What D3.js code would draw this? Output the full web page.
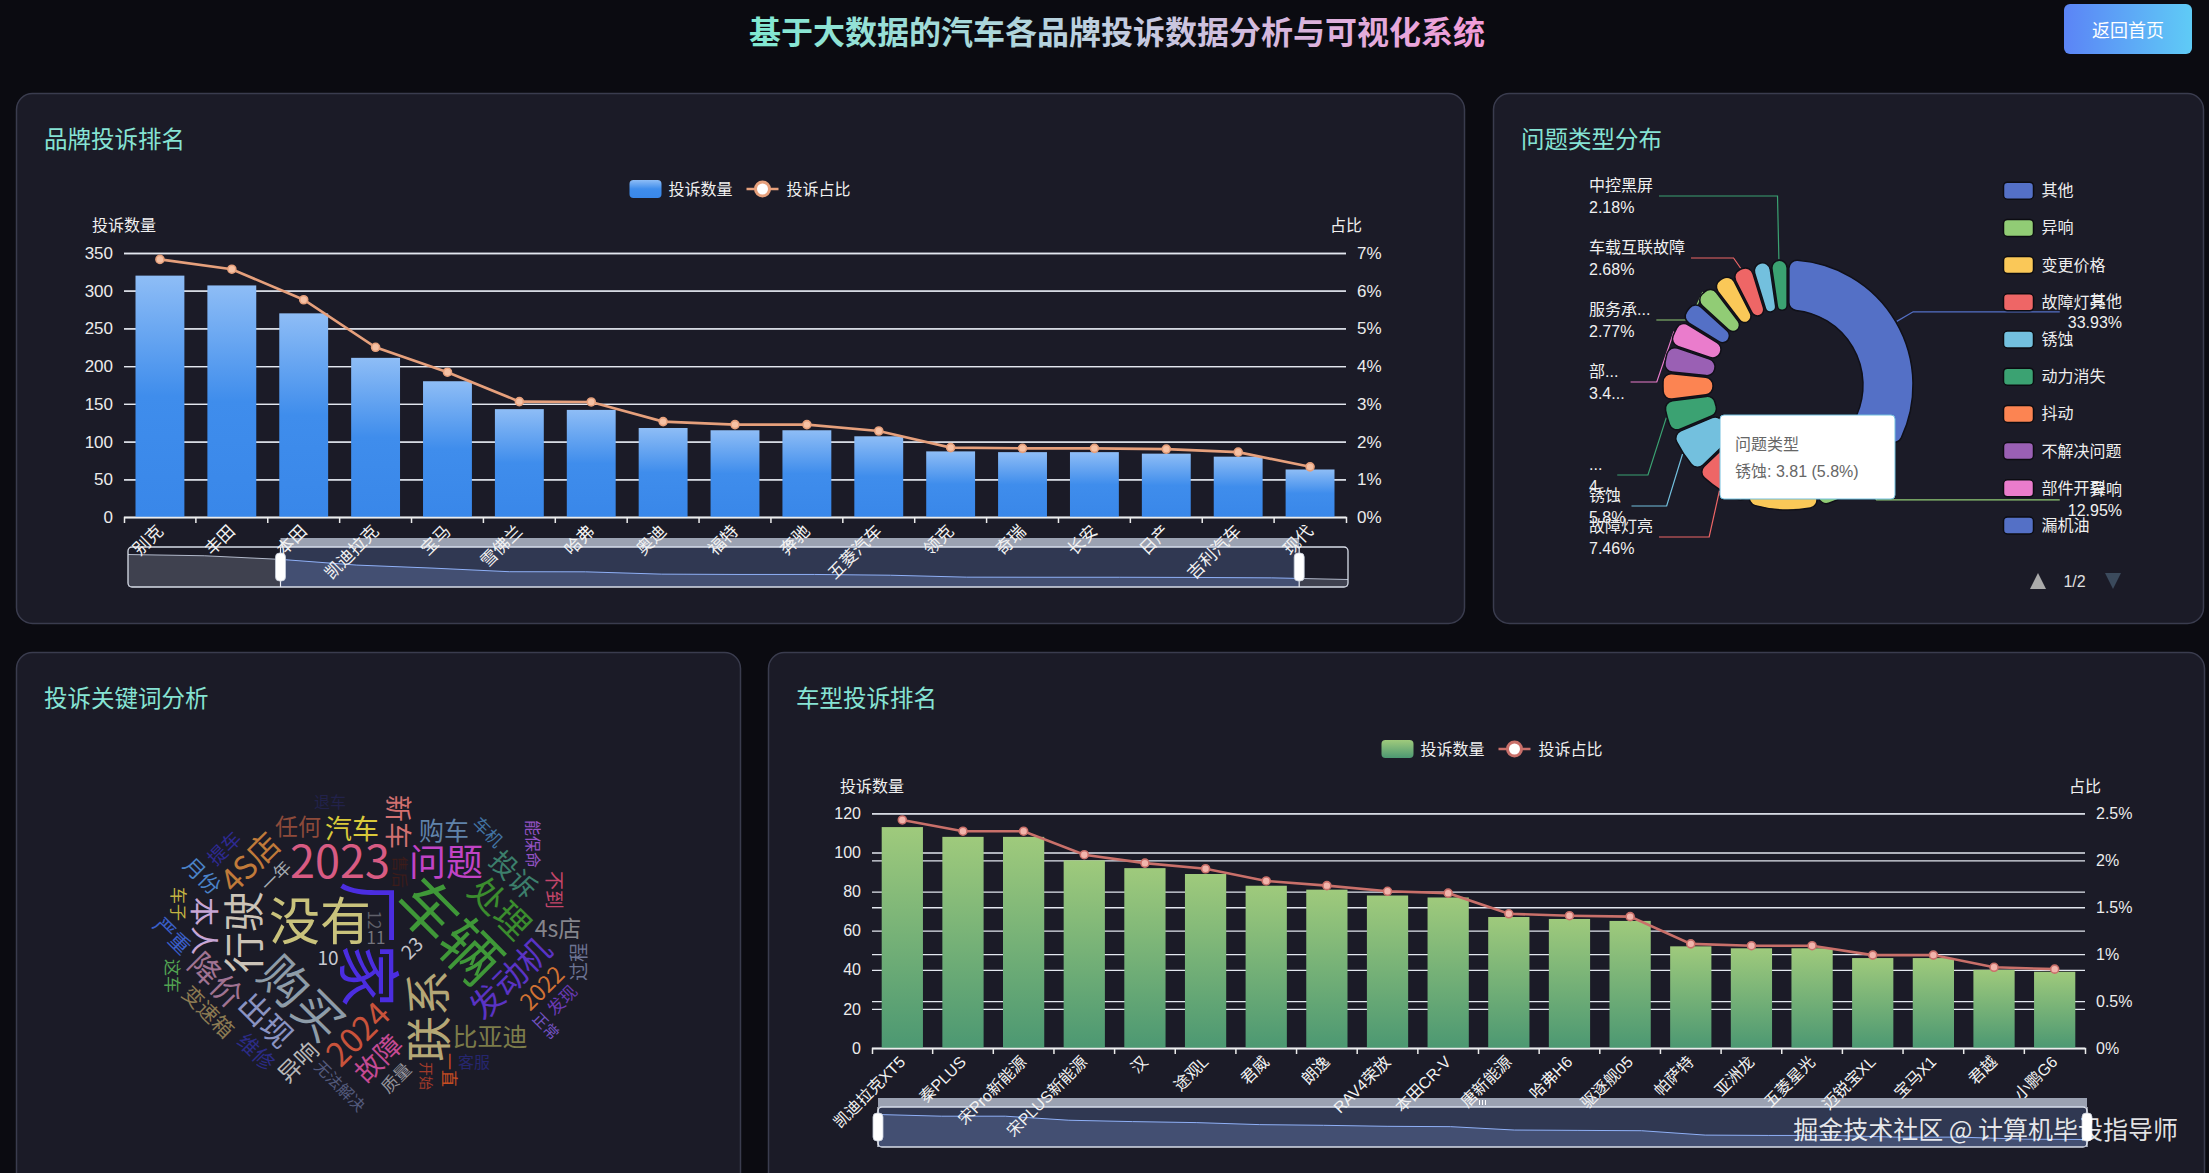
<!DOCTYPE html>
<html lang="zh-CN">
<head>
<meta charset="utf-8">
<title>基于大数据的汽车各品牌投诉数据分析与可视化系统</title>
<script src="https://cdn.jsdelivr.net/npm/d3@7"></script>
<style>
  html, body { margin:0; padding:0; background:#0b0b11; overflow:hidden; }
  svg { display:block; }
  text { font-family: "Liberation Sans", "Noto Sans CJK SC", sans-serif; }
</style>
</head>
<body>
<svg id="chart" width="2209" height="1173"></svg>
<script>
// ================= DATA =================
const brands = ['别克','丰田','本田','凯迪拉克','宝马','雪佛兰','哈弗','奥迪','福特','奔驰','五菱汽车','领克','奇瑞','长安','日产','吉利汽车','现代'];
const brandCounts = [320, 307, 270, 211, 180, 143, 142, 118, 115, 115, 107, 87, 86, 86, 84, 80, 63];
const brandShares = [6.83, 6.57, 5.76, 4.50, 3.84, 3.06, 3.05, 2.53, 2.45, 2.45, 2.28, 1.84, 1.82, 1.82, 1.80, 1.72, 1.33];
const brandLeftTicks = [0, 50, 100, 150, 200, 250, 300, 350];
const brandRightTicks = [0, 1, 2, 3, 4, 5, 6, 7];

const models = ['凯迪拉克XT5','秦PLUS','宋Pro新能源','宋PLUS新能源','汉','途观L','君威','朗逸','RAV4荣放','本田CR-V','唐新能源','哈弗H6','驱逐舰05','帕萨特','亚洲龙','五菱星光','迈锐宝XL','宝马X1','君越','小鹏G6'];
const modelCounts = [113, 108, 108, 96, 92, 89, 83, 81, 78, 77, 67, 66, 65, 52, 51, 51, 46, 46, 40, 39];
const modelShares = [2.43, 2.31, 2.31, 2.06, 1.97, 1.91, 1.78, 1.73, 1.67, 1.65, 1.43, 1.41, 1.40, 1.11, 1.09, 1.09, 0.99, 0.99, 0.86, 0.84];
const modelLeftTicks = [0, 20, 40, 60, 80, 100, 120];
const modelRightTicks = [0, 0.5, 1, 1.5, 2, 2.5];

const issueTypes = ['其他','异响','变更价格','故障灯亮','锈蚀','动力消失','抖动','不解决问题','部件开裂','漏机油','服务承诺不兑现','车身漆面问题','车载互联故障','空调故障','中控黑屏'];
const issueValues = [22.29, 8.51, 6.30, 4.90, 3.81, 2.76, 2.36, 2.30, 2.25, 1.90, 1.82, 1.79, 1.76, 1.51, 1.43];

const keywords = ['厂家','车辆','没有','购买','联系','2023','行驶','问题','处理','发动机','2024','4S店','出现','降价','本人','故障','新车','投诉','汽车','比亚迪','购车','2022','任何','4s店','异响','变速箱','月份','严重','维修','不到','过程','23','10','提车','11','12','车子','这车','一年','一直','质量','车机','发现','无法解决','能保命','客服','售后','退车','正常','开始'];
const keywordWeights = [620, 590, 500, 470, 450, 440, 400, 360, 340, 320, 320, 310, 300, 300, 280, 260, 260, 260, 260, 240, 240, 220, 220, 220, 220, 200, 200, 200, 200, 180, 180, 180, 180, 180, 160, 160, 160, 160, 160, 160, 160, 160, 160, 150, 150, 150, 150, 150, 140, 130];

const legendLabels = ['投诉数量', '投诉占比'];
const axisNames = ['投诉数量', '占比'];

// ================= STYLE =================
const keywordColors = ['#4b2de0','#3f9838','#c9c27c','#8e9ca8','#b5a776','#d85b83','#cbc3b8','#c143c6','#3b8c2e','#5a33c4','#c9533b','#c07a3a','#8a93c2','#a07392','#c7a6d6','#c44a93','#d27070','#3c7f6c','#d9c93a','#7c7c4a','#6083aa','#d27233','#8d4a3a','#85858c','#b8b8b8','#8c7a52','#4a82c8','#3a5fc8','#2c2c86','#c4466a','#6d7494','#c4c4cc','#c9c9d2','#2e2a92','#74747c','#60606a','#c2b342','#52a352','#a4abb2','#c44c22','#94949c','#4274a4','#6a3ab4','#535a7c','#9352c4','#26266e','#3c1c1a','#22224a','#7352c2','#a33a2a'];
const keywordRotations = [90,45,0,45,-90,0,-90,0,45,-45,-45,-45,45,45,90,-45,90,45,0,0,0,-45,0,0,-45,45,45,45,45,90,-90,-45,0,-45,0,90,90,90,-45,90,-45,45,-45,45,90,0,90,0,45,90];
const piePalette = ['#5470c6','#91cc75','#fac858','#ee6666','#73c0de','#3ba272','#fc8452','#9a60b4','#ea7ccc'];
const pieLabelShown = ['其他','异响','故障灯亮','锈蚀','动力消失','部件开裂','服务承诺不兑现','车载互联故障','中控黑屏'];
const pieLabelDisplay = {'服务承诺不兑现': ['服务承...', null], '部件开裂': ['部...', '3.4...'], '动力消失': ['...', '4...']};

const FONT = '"Liberation Sans", "Noto Sans CJK SC", sans-serif';
const CJK = '"Noto Sans CJK SC", sans-serif';
const CLOUD_FONT = '"Noto Sans CJK SC"';
const PANEL_BG = '#1b1b27';

// ================= SETUP =================
const svg = d3.select('#chart');
const defs = svg.append('defs');
svg.append('rect').attr('width', 2209).attr('height', 1173).attr('fill', '#0b0b11');

function grad(id, stops, vertical) {
  const g = defs.append('linearGradient').attr('id', id)
    .attr('x1', 0).attr('y1', 0).attr('x2', vertical ? 0 : 1).attr('y2', vertical ? 1 : 0);
  stops.forEach(([o, c]) => g.append('stop').attr('offset', o).attr('stop-color', c));
}
grad('titleGrad', [[0, '#80e9d1'], [0.5, '#c2cde0'], [1, '#f29bd9']], false);
grad('btnGrad', [[0, '#5b84f6'], [1, '#5fcbf6']], false);
grad('blueBar', [[0, '#8ebdf6'], [0.5, '#3f8dec'], [1, '#3987e9']], true);
grad('greenBar', [[0, '#9fca7c'], [1, '#4c9872']], true);

// header
svg.append('text').attr('x', 1117).attr('y', 30).attr('text-anchor', 'middle')
  .attr('dominant-baseline', 'central')
  .style('font-family', CJK).style('font-size', '32px').style('font-weight', 700)
  .attr('fill', 'url(#titleGrad)').text('基于大数据的汽车各品牌投诉数据分析与可视化系统');
svg.append('rect').attr('x', 2064).attr('y', 4).attr('width', 128).attr('height', 50).attr('rx', 6)
  .attr('fill', 'url(#btnGrad)');
svg.append('text').attr('x', 2128).attr('y', 29).attr('text-anchor', 'middle').attr('dominant-baseline', 'central')
  .style('font-family', CJK).style('font-size', '18px').attr('fill', '#fff').text('返回首页');

// panels
const panels = [
  {x: 16, y: 93, w: 1448, h: 530, title: '品牌投诉排名'},
  {x: 1493, y: 93, w: 710, h: 530, title: '问题类型分布'},
  {x: 16, y: 652, w: 724, h: 545, title: '投诉关键词分析'},
  {x: 768, y: 652, w: 1436, h: 545, title: '车型投诉排名'}
];
panels.forEach(p => {
  svg.append('rect').attr('x', p.x + 0.5).attr('y', p.y + 0.5).attr('width', p.w).attr('height', p.h)
    .attr('rx', 16).attr('fill', PANEL_BG).attr('stroke', '#3a3c4e').attr('stroke-width', 1.5);
  svg.append('text').attr('x', p.x + 28).attr('y', p.y + 44.5).attr('dominant-baseline', 'central')
    .style('font-family', CJK).style('font-size', '23.5px').attr('fill', '#86e3d4').text(p.title);
});

// ================= COMBO CHART =================
function combo(o) {
  const g = svg.append('g');
  const x = d3.scaleBand().domain(o.cats).range([o.x0, o.x1]).padding(0);
  const yl = d3.scaleLinear().domain([0, o.lMax]).range([o.yb, o.yt]);
  const yr = d3.scaleLinear().domain([0, o.rMax]).range([o.yb, o.yt]);
  const wid = o.x1 - o.x0;

  const la = g.append('g').attr('transform', `translate(${o.x0},0)`)
    .call(d3.axisLeft(yl).tickValues(o.lTicks).tickSize(-wid).tickPadding(11));
  la.select('.domain').remove();
  la.selectAll('.tick line').attr('stroke', '#e3e7ef').attr('stroke-width', 1.3);
  la.selectAll('.tick text').attr('fill', '#ececec').style('font-size', o.tickFont + 'px').style('font-family', FONT);

  const ra = g.append('g').attr('transform', `translate(${o.x1},0)`)
    .call(d3.axisRight(yr).tickValues(o.rTicks).tickSize(-wid).tickPadding(11).tickFormat(d => d + '%'));
  ra.select('.domain').remove();
  ra.selectAll('.tick line').attr('stroke', '#e3e7ef').attr('stroke-width', 1.3);
  ra.selectAll('.tick text').attr('fill', '#ececec').style('font-size', o.tickFont + 'px').style('font-family', FONT);

  // axis names
  g.append('text').attr('x', o.x0).attr('y', o.nameY).attr('text-anchor', 'middle').attr('dominant-baseline', 'central')
    .style('font-size', '16px').attr('fill', '#f0f0f0').text(axisNames[0]);
  g.append('text').attr('x', o.x1).attr('y', o.nameY).attr('text-anchor', 'middle').attr('dominant-baseline', 'central')
    .style('font-size', '16px').attr('fill', '#f0f0f0').text(axisNames[1]);

  // bars
  const bw = x.bandwidth() * 0.68;
  g.selectAll('rect.bar').data(o.counts).join('rect').attr('class', 'bar')
    .attr('x', (d, i) => x(o.cats[i]) + x.bandwidth() / 2 - bw / 2)
    .attr('y', d => yl(d)).attr('width', bw).attr('height', d => o.yb - yl(d))
    .attr('fill', `url(#${o.grad})`);

  // x axis
  const xa = g.append('g').attr('transform', `translate(0,${o.yb})`)
    .call(d3.axisBottom(x).tickSize(0).tickSizeOuter(6).tickFormat(''));
  xa.select('.domain').attr('stroke', '#ececec').attr('stroke-width', 1.5);
  g.selectAll('line.bt').data(o.cats.slice(1)).join('line').attr('class', 'bt')
    .attr('x1', c => x(c)).attr('x2', c => x(c)).attr('y1', o.yb).attr('y2', o.yb + 6)
    .attr('stroke', '#ececec').attr('stroke-width', 1.5);

  // share line
  const cx = (d, i) => x(o.cats[i]) + x.bandwidth() / 2;
  g.append('path').datum(o.shares).attr('d', d3.line().x(cx).y(d => yr(d)))
    .attr('fill', 'none').attr('stroke', o.lineColor).attr('stroke-width', 2.6);
  g.selectAll('circle.mk').data(o.shares).join('circle').attr('class', 'mk')
    .attr('cx', cx).attr('cy', d => yr(d)).attr('r', 4)
    .attr('fill', o.markerFill).attr('stroke', o.lineColor).attr('stroke-width', 1.6);
  return x;
}

function xLabels(o, x) {
  svg.append('g').selectAll('text').data(o.cats).join('text')
    .attr('transform', c => `translate(${x(c) + x.bandwidth() / 2},${o.yb + 11}) rotate(-45)`)
    .attr('text-anchor', 'end').attr('dy', '0.35em').attr('fill', '#f2f2f2')
    .style('font-size', o.xFont + 'px').text(c => c);
}

function legend(cx, cy, gradId, lineColor) {
  const g = svg.append('g');
  const tw = 64;
  let x = cx - (32 + 7 + tw + 14 + 32 + 8 + tw) / 2;
  g.append('rect').attr('x', x).attr('y', cy - 9).attr('width', 32).attr('height', 18).attr('rx', 4)
    .attr('fill', `url(#${gradId})`);
  g.append('text').attr('x', x + 39).attr('y', cy).attr('dominant-baseline', 'central')
    .style('font-size', '16px').attr('fill', '#f0f0f0').text(legendLabels[0]);
  x += 32 + 7 + tw + 14;
  g.append('line').attr('x1', x).attr('x2', x + 32).attr('y1', cy).attr('y2', cy)
    .attr('stroke', lineColor).attr('stroke-width', 2.6);
  g.append('circle').attr('cx', x + 16).attr('cy', cy).attr('r', 7)
    .attr('fill', '#fff').attr('stroke', lineColor).attr('stroke-width', 3);
  g.append('text').attr('x', x + 40).attr('y', cy).attr('dominant-baseline', 'central')
    .style('font-size', '16px').attr('fill', '#f0f0f0').text(legendLabels[1]);
}

let clipId = 0;
function slider(o) {
  const g = svg.append('g');
  const {x0, x1, y0, h, counts, start, end} = o;
  const sx = d3.scaleLinear().domain([0, 100]).range([x0, x1]);
  const sa = sx(start), sb = sx(end);
  const ext = d3.extent(counts), off = (ext[1] - ext[0]) * 0.3;
  const sy = d3.scaleLinear().domain([ext[0] - off, ext[1] + off]).range([y0 + h, y0]);
  const px = d3.scaleLinear().domain([0, counts.length - 1]).range([x0, x1]);
  const area = d3.area().x((d, i) => px(i)).y0(y0 + h).y1(d => sy(d));
  const ln = d3.line().x((d, i) => px(i)).y(d => sy(d));

  const cOut = 'clipOut' + (clipId++), cIn = 'clipIn' + (clipId++);
  const co = defs.append('clipPath').attr('id', cOut);
  co.append('rect').attr('x', x0 - 2).attr('y', y0 - 2).attr('width', Math.max(0, sa - x0 + 2)).attr('height', h + 4);
  co.append('rect').attr('x', sb).attr('y', y0 - 2).attr('width', Math.max(0, x1 - sb + 2)).attr('height', h + 4);
  defs.append('clipPath').attr('id', cIn).append('rect').attr('x', sa).attr('y', y0 - 2).attr('width', sb - sa).attr('height', h + 4);

  const gOut = g.append('g').attr('clip-path', `url(#${cOut})`);
  gOut.append('path').datum(counts).attr('d', area).attr('fill', 'rgba(210,219,238,0.2)');
  gOut.append('path').datum(counts).attr('d', ln).attr('fill', 'none').attr('stroke', '#d2dbee').attr('stroke-width', 1).attr('stroke-opacity', 0.8);

  g.append('rect').attr('x', sa).attr('y', y0).attr('width', sb - sa).attr('height', h).attr('fill', 'rgba(135,175,255,0.2)');
  const gIn = g.append('g').attr('clip-path', `url(#${cIn})`);
  gIn.append('path').datum(counts).attr('d', area).attr('fill', 'rgba(143,176,247,0.2)');
  gIn.append('path').datum(counts).attr('d', ln).attr('fill', 'none').attr('stroke', '#8fb0f7').attr('stroke-width', 1);

  g.append('rect').attr('x', x0).attr('y', y0).attr('width', x1 - x0).attr('height', h).attr('rx', 4)
    .attr('fill', 'none').attr('stroke', '#d8dde8').attr('stroke-width', 1.3);
  // move handle band
  g.append('rect').attr('x', sa).attr('y', y0 - 9).attr('width', sb - sa).attr('height', 9)
    .attr('fill', '#d2dbee').attr('fill-opacity', 0.7);
  const mid = (sa + sb) / 2;
  [-3, 0, 3].forEach(d => g.append('line').attr('x1', mid + d).attr('x2', mid + d).attr('y1', y0 - 7).attr('y2', y0 - 2)
    .attr('stroke', '#fff').attr('stroke-width', 1));
  // handles
  [sa, sb].forEach(hx => {
    g.append('line').attr('x1', hx).attr('x2', hx).attr('y1', y0).attr('y2', y0 + h)
      .attr('stroke', '#e8ecf4').attr('stroke-width', 1.2);
    g.append('rect').attr('x', hx - 5).attr('y', y0 + h / 2 - 14).attr('width', 10).attr('height', 28).attr('rx', 4)
      .attr('fill', '#ffffff').attr('stroke', '#c8cedb').attr('stroke-width', 0.8);
  });
}

// ----- brand chart -----
const brandCfg = {cats: brands, counts: brandCounts, shares: brandShares, x0: 124, x1: 1346, yb: 517, yt: 253,
  lMax: 350, rMax: 7, lTicks: brandLeftTicks, rTicks: brandRightTicks, tickFont: 17, xFont: 17, nameY: 225,
  grad: 'blueBar', lineColor: '#e6a07c', markerFill: '#f6c1a4'};
const bx = combo(brandCfg);
legend(740, 189, 'blueBar', '#e6a07c');
slider({x0: 128, x1: 1348, y0: 547, h: 40, counts: brandCounts, start: 12.5, end: 96});
xLabels(brandCfg, bx);

// ----- model chart -----
const modelCfg = {cats: models, counts: modelCounts, shares: modelShares, x0: 872, x1: 2085, yb: 1048, yt: 813.4,
  lMax: 120, rMax: 2.5, lTicks: modelLeftTicks, rTicks: modelRightTicks, tickFont: 16, xFont: 16, nameY: 786,
  grad: 'greenBar', lineColor: '#c9706a', markerFill: '#f1b4ac'};
const mx = combo(modelCfg);
legend(1492, 749, 'greenBar', '#c9706a');
slider({x0: 878, x1: 2087, y0: 1107, h: 40, counts: modelCounts, start: 0, end: 100});
xLabels(modelCfg, mx);

// ================= PIE =================
(function () {
  const pcx = 1788, pcy = 385, rIn = 75, rOut = 125;
  const g = svg.append('g').attr('transform', `translate(${pcx},${pcy})`);
  const arcs = d3.pie().sort(null).value(d => d).padAngle(0.012)(issueValues);
  const arcGen = d3.arc().innerRadius(rIn).outerRadius(rOut).cornerRadius(8);
  const color = i => piePalette[i % piePalette.length];
  g.selectAll('path.sl').data(arcs).join('path').attr('class', 'sl').attr('d', arcGen)
    .attr('fill', (d, i) => color(i)).attr('stroke', '#101018').attr('stroke-width', 1.5);

  const total = d3.sum(issueValues);
  const pct = v => (+(v / total * 100).toFixed(2)) + '%';
  const R1 = rOut + 20;
  const items = arcs.map((a, i) => {
    const mid = (a.startAngle + a.endAngle) / 2;
    return {i, mid, left: Math.sin(mid) < 0, bx: R1 * Math.sin(mid), y: -R1 * Math.cos(mid)};
  });
  const maxY = 568 - pcy, gap = 31;
  [true, false].forEach(side => {
    const arr = items.filter(d => d.left === side).sort((a, b) => a.y - b.y);
    for (let k = 1; k < arr.length; k++) if (arr[k].y < arr[k - 1].y + gap) arr[k].y = arr[k - 1].y + gap;
    if (arr.length && arr[arr.length - 1].y > maxY) {
      const sh = arr[arr.length - 1].y - maxY;
      arr.forEach(d => d.y -= sh);
    }
  });
  const edgeL = 1589 - pcx, edgeR = 2122 - pcx;
  items.filter(d => pieLabelShown.includes(issueTypes[d.i])).forEach(d => {
    const name = issueTypes[d.i];
    const disp = pieLabelDisplay[name] || [null, null];
    const t1 = disp[0] || name, t2 = disp[1] || pct(issueValues[d.i]);
    const tx = d.left ? edgeL : edgeR;
    const anchor = d.left ? 'start' : 'end';
    const lg = g.append('g');
    const a = lg.append('text').attr('x', tx).attr('y', d.y - 10.5).attr('text-anchor', anchor).attr('dominant-baseline', 'central')
      .style('font-size', '16px').attr('fill', '#f0f0f0').text(t1);
    const b = lg.append('text').attr('x', tx).attr('y', d.y + 11).attr('text-anchor', anchor).attr('dominant-baseline', 'central')
      .style('font-size', '16px').attr('fill', '#f0f0f0').text(t2);
    const tw = Math.max(a.node().getComputedTextLength(), b.node().getComputedTextLength());
    const endX = d.left ? tx + tw + 6 : tx - tw - 8;
    const sxp = (rOut + 1) * Math.sin(d.mid), syp = -(rOut + 1) * Math.cos(d.mid);
    g.insert('path', ':first-child').attr('d', `M${sxp},${syp}L${d.bx},${d.y}L${endX},${d.y}`)
      .attr('fill', 'none').attr('stroke', color(d.i)).attr('stroke-width', 1.2);
  });

  // legend (page 1)
  const lg = svg.append('g');
  const perPage = 10;
  issueTypes.slice(0, perPage).forEach((n, i) => {
    const y = 190.7 + i * 37.2;
    lg.append('rect').attr('x', 2003.5).attr('y', y - 8.5).attr('width', 30).attr('height', 17).attr('rx', 4)
      .attr('fill', color(i)).attr('stroke', '#0c0c12').attr('stroke-width', 1.5);
    lg.append('text').attr('x', 2041.5).attr('y', y).attr('dominant-baseline', 'central')
      .style('font-size', '16px').attr('fill', '#eeeeee').text(n);
  });
  const pages = Math.ceil(issueTypes.length / perPage);
  lg.append('path').attr('d', 'M2038,573L2046,589L2030,589Z').attr('fill', '#aaaaaa');
  lg.append('text').attr('x', 2074.5).attr('y', 581).attr('text-anchor', 'middle').attr('dominant-baseline', 'central')
    .style('font-size', '16px').attr('fill', '#e0e0e0').text(`1/${pages}`);
  lg.append('path').attr('d', 'M2105,573L2121,573L2113,589Z').attr('fill', '#3b4a5c');

  // tooltip (hover on 锈蚀)
  const ti = issueTypes.indexOf('锈蚀');
  const tt = svg.append('g').attr('transform', `translate(${pcx - 68},${pcy + 30})`);
  tt.append('rect').attr('width', 175).attr('height', 84).attr('rx', 4).attr('fill', '#ffffff')
    .attr('stroke', color(ti)).attr('stroke-width', 1);
  tt.append('text').attr('x', 15).attr('y', 29).attr('dominant-baseline', 'central')
    .style('font-size', '16px').attr('fill', '#666').text('问题类型');
  tt.append('text').attr('x', 15).attr('y', 56).attr('dominant-baseline', 'central')
    .style('font-size', '16px').attr('fill', '#666')
    .text(`${issueTypes[ti]}: ${issueValues[ti]} (${pct(issueValues[ti])})`);
})();

// ================= WORD CLOUD =================
(function () {
  const kwSize = d3.scaleLinear().domain(d3.extent(keywordWeights)).range([14, 63]);
  const cell = 2, CW = 680, CH = 470, ccx = 370, ccy = 943, ELL = 0.66, PAD = 2;
  const gw = Math.floor(CW / cell), gh = Math.floor(CH / cell);
  const ox = ccx - gw * cell / 2, oy = ccy - gh * cell / 2;
  const grid = new Uint8Array(gw * gh);
  const cv = document.createElement('canvas');
  const ctx = cv.getContext('2d', {willReadFrequently: true});
  const order = d3.range(keywords.length).sort((a, b) => keywordWeights[b] - keywordWeights[a]);
  const padOffsets = [];
  for (let a = -PAD; a <= PAD; a++) for (let b = -PAD; b <= PAD; b++) if (Math.abs(a) + Math.abs(b) <= PAD + 1) padOffsets.push([a, b]);
  const res = [];
  order.forEach((i, k) => {
    const fs = kwSize(keywordWeights[i]);
    const deg = keywordRotations[i], rad = deg * Math.PI / 180;
    const font = `${fs}px ${CLOUD_FONT}`;
    ctx.setTransform(1, 0, 0, 1, 0, 0);
    ctx.font = font;
    const m = ctx.measureText(keywords[i]);
    const asc = m.actualBoundingBoxAscent, desc = m.actualBoundingBoxDescent;
    const tw = m.width, th = asc + desc;
    const c = Math.abs(Math.cos(rad)), s = Math.abs(Math.sin(rad));
    const bw = Math.ceil(tw * c + th * s) + 6, bh = Math.ceil(tw * s + th * c) + 6;
    cv.width = bw; cv.height = bh;
    ctx.setTransform(1, 0, 0, 1, 0, 0);
    ctx.font = font; ctx.textAlign = 'center'; ctx.textBaseline = 'alphabetic'; ctx.fillStyle = '#000';
    ctx.translate(bw / 2, bh / 2); ctx.rotate(rad);
    const dy = (asc - desc) / 2;
    ctx.fillText(keywords[i], 0, dy);
    const img = ctx.getImageData(0, 0, bw, bh).data;
    const seen = new Set(), cells = [];
    for (let py = 0; py < bh; py++) for (let px = 0; px < bw; px++) {
      if (img[(py * bw + px) * 4 + 3] > 30) {
        const gx = Math.floor((px - bw / 2) / cell), gy = Math.floor((py - bh / 2) / cell);
        const key = (gx + 1000) * 4000 + (gy + 1000);
        if (!seen.has(key)) { seen.add(key); cells.push([gx, gy]); }
      }
    }
    const fits = (gx, gy) => {
      for (let q = 0; q < cells.length; q++) {
        const x = gx + cells[q][0], y = gy + cells[q][1];
        if (x < 0 || y < 0 || x >= gw || y >= gh || grid[y * gw + x]) return false;
      }
      return true;
    };
    let pos = null;
    const t0 = (k % 2) * Math.PI;
    for (let t = 0; ;) {
      const r = 0.45 * t;
      if (r > gw) break;
      const gx = Math.round(gw / 2 + r * Math.cos(t + t0)), gy = Math.round(gh / 2 + r * Math.sin(t + t0) * ELL);
      if (fits(gx, gy)) { pos = [gx, gy]; break; }
      t += Math.min(0.6, 1.2 / (r + 1));
    }
    if (!pos) return;
    cells.forEach(([dx, dyc]) => {
      const x = pos[0] + dx, y = pos[1] + dyc;
      padOffsets.forEach(([a, b]) => {
        const xx = x + a, yy = y + b;
        if (xx >= 0 && yy >= 0 && xx < gw && yy < gh) grid[yy * gw + xx] = 1;
      });
    });
    res.push({i, x: ox + pos[0] * cell, y: oy + pos[1] * cell, deg, fs, dy});
  });
  svg.append('g').selectAll('text').data(res).join('text')
    .attr('transform', d => `translate(${d.x},${d.y}) rotate(${d.deg})`)
    .attr('text-anchor', 'middle').attr('y', d => d.dy)
    .style('font-family', CLOUD_FONT).style('font-size', d => d.fs + 'px')
    .attr('fill', d => keywordColors[d.i]).text(d => keywords[d.i]);
})();

// watermark
svg.append('text').attr('x', 2178).attr('y', 1128).attr('text-anchor', 'end').attr('dominant-baseline', 'central')
  .style('font-family', CJK).style('font-size', '25px').attr('fill', '#ffffff').attr('fill-opacity', 0.88)
  .text('掘金技术社区 @ 计算机毕设指导师');
</script>
</body>
</html>
